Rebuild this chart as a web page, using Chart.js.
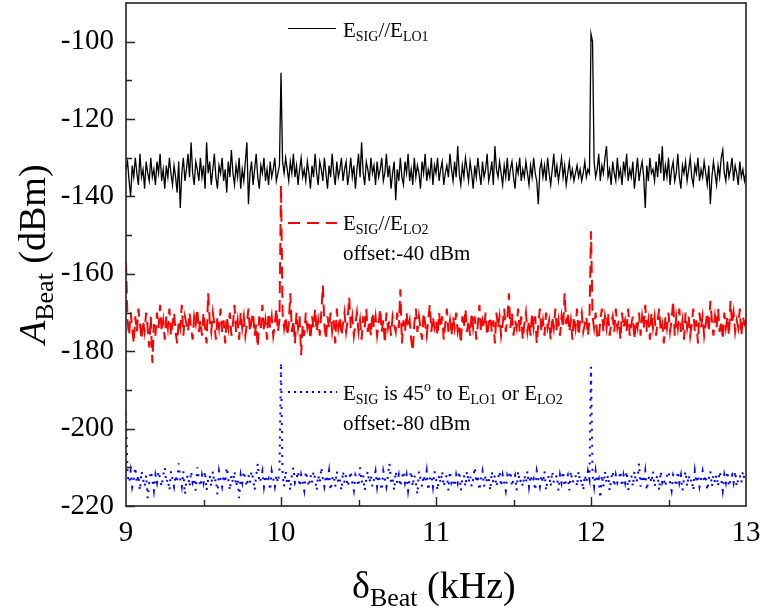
<!DOCTYPE html>
<html>
<head>
<meta charset="utf-8">
<script src="https://cdn.jsdelivr.net/npm/chart.js@4/dist/chart.umd.min.js"></script>
<style>
  html, body { margin: 0; padding: 0; background: #fff; }
  canvas { display: block; }
</style>
</head>
<body>
<canvas id="beatChart" width="761" height="612"></canvas>
<script>
// frequency grid (kHz): first sample and spacing
const freqStart = 9;
const freqStep = 0.01;

const xTicks = [9, 10, 11, 12, 13];
const yTicks = [-220, -200, -180, -160, -140, -120, -100];

// E_SIG // E_LO1 (dBm)
const beatLO1 = [
  -133,-131,-136,-140,-132,-135,-130,-134,-137,-129, -135,-133,-138,-131,-134,-136,-130,-135,-133,-137,
  -131,-134,-129,-136,-133,-138,-132,-135,-130,-134, -137,-132,-135,-139,-131,-143,-134,-130,-136,-133,
  -129,-135,-126,-134,-137,-131,-133,-136,-130,-135, -132,-138,-126,-134,-131,-137,-133,-129,-135,-138,
  -132,-134,-130,-136,-133,-139,-131,-135,-128,-134, -137,-132,-135,-130,-138,-133,-136,-131,-126,-142,
  -134,-131,-137,-133,-129,-135,-138,-132,-134,-130, -136,-133,-137,-131,-135,-133,-130,-136,-134,-132,
  -108,-131,-134,-130,-133,-136,-131,-134,-129,-135, -132,-137,-133,-130,-135,-133,-136,-131,-134,-138,
  -132,-135,-129,-134,-137,-131,-133,-136,-130,-134, -138,-132,-135,-129,-134,-137,-131,-135,-133,-130,
  -136,-133,-131,-137,-134,-130,-135,-132,-138,-133, -129,-135,-126,-134,-137,-131,-133,-136,-130,-134,
  -132,-137,-131,-135,-133,-130,-136,-134,-129,-135, -132,-138,-134,-131,-141,-133,-136,-130,-135,-137,
  -131,-134,-129,-136,-133,-137,-130,-135,-132,-134, -138,-131,-134,-129,-136,-133,-135,-130,-137,-132,
  -134,-130,-136,-133,-131,-137,-134,-132,-135,-129, -133,-136,-131,-135,-127,-134,-137,-132,-135,-130,
  -133,-136,-131,-134,-138,-132,-135,-130,-134,-137, -131,-135,-133,-129,-136,-134,-131,-137,-127,-133,
  -135,-131,-134,-137,-132,-135,-130,-136,-133,-131, -135,-138,-132,-134,-130,-136,-133,-135,-131,-134,
  -137,-132,-135,-130,-134,-136,-142,-133,-131,-135, -132,-136,-130,-134,-137,-133,-129,-135,-132,-136,
  -133,-130,-135,-132,-137,-134,-131,-135,-133,-136, -134,-132,-135,-133,-136,-134,-131,-135,-133,-134,
  -98,-100,-131,-135,-133,-129,-136,-132,-134,-130, -127,-135,-133,-137,-131,-134,-136,-130,-135,-133,
  -137,-131,-134,-129,-136,-133,-135,-131,-138,-134, -130,-136,-133,-131,-135,-143,-132,-136,-130,-134,
  -133,-136,-131,-135,-129,-134,-127,-136,-132,-135, -130,-137,-133,-131,-136,-134,-129,-135,-138,-132,
  -134,-131,-136,-133,-130,-135,-137,-132,-134,-130, -136,-133,-135,-131,-134,-137,-132,-142,-135,-131,
  -134,-137,-132,-135,-130,-128,-134,-136,-131,-135, -133,-130,-136,-132,-134,-137,-131,-135,-133,-136,
  -134
];

// E_SIG // E_LO2, offset -40 dBm
const beatLO2 = [
  -157,-172,-176,-170,-174,-178,-171,-175,-169,-173, -177,-172,-175,-170,-174,-179,-171,-183,-173,-176,
  -170,-174,-168,-175,-172,-177,-171,-174,-169,-176, -173,-170,-175,-178,-172,-174,-168,-176,-171,-173,
  -175,-170,-174,-177,-171,-173,-169,-175,-172,-176, -170,-174,-178,-165,-172,-175,-170,-173,-177,-171,
  -174,-169,-175,-172,-178,-171,-174,-170,-176,-173, -168,-175,-172,-177,-170,-174,-171,-176,-173,-169,
  -175,-172,-170,-176,-173,-179,-171,-174,-168,-175, -172,-177,-170,-174,-171,-176,-173,-169,-175,-172,
  -137,-170,-174,-171,-176,-173,-165,-175,-172,-178, -170,-174,-171,-181,-173,-176,-170,-174,-172,-177,
  -171,-174,-169,-175,-172,-176,-170,-163,-173,-177, -171,-174,-170,-175,-172,-178,-169,-174,-171,-176,
  -173,-170,-175,-172,-166,-174,-171,-176,-173,-170, -175,-172,-177,-171,-174,-169,-175,-172,-176,-170,
  -174,-171,-176,-173,-169,-175,-172,-178,-170,-174, -172,-176,-171,-173,-175,-170,-174,-164,-178,-172,
  -175,-170,-174,-172,-177,-180,-173,-169,-175,-171, -174,-177,-170,-173,-176,-172,-168,-175,-171,-174,
  -172,-176,-170,-174,-171,-177,-173,-169,-175,-172, -176,-171,-174,-170,-175,-173,-178,-171,-174,-169,
  -175,-172,-176,-170,-174,-171,-177,-173,-168,-175, -172,-174,-170,-176,-173,-171,-175,-172,-178,-170,
  -174,-171,-176,-173,-169,-175,-172,-165,-174,-170, -176,-172,-174,-169,-175,-171,-177,-173,-170,-175,
  -172,-176,-170,-174,-171,-178,-173,-169,-175,-172, -176,-170,-174,-172,-177,-171,-174,-169,-175,-172,
  -176,-171,-174,-165,-173,-170,-175,-172,-177,-171, -174,-169,-176,-172,-170,-175,-173,-171,-176,-172,
  -149,-171,-174,-170,-176,-177,-172,-169,-175,-171, -174,-170,-176,-173,-171,-175,-169,-174,-172,-177,
  -170,-174,-172,-175,-169,-176,-173,-171,-177,-172, -174,-170,-176,-171,-174,-168,-175,-172,-177,-170,
  -174,-171,-176,-172,-169,-175,-173,-178,-171,-174, -170,-175,-172,-167,-176,-171,-174,-169,-175,-172,
  -177,-170,-174,-171,-176,-173,-169,-175,-172,-178, -170,-174,-171,-176,-173,-170,-175,-167,-172,-176,
  -171,-174,-169,-175,-172,-177,-170,-174,-171,-176, -167,-173,-170,-175,-172,-174,-169,-176,-171,-173,
  -172
];

// E_SIG at 45 deg, offset -80 dBm
const beat45 = [
  -196,-212,-214,-211,-215,-213,-210,-214,-212,-216, -211,-213,-215,-212,-218,-214,-211,-213,-216,-212,
  -214,-211,-213,-215,-212,-210,-214,-213,-216,-211, -213,-215,-212,-214,-209,-213,-215,-211,-217,-213,
  -212,-215,-211,-214,-213,-216,-210,-213,-215,-212, -214,-211,-216,-213,-212,-215,-211,-214,-213,-217,
  -211,-213,-215,-212,-214,-210,-213,-216,-212,-214, -211,-215,-213,-218,-212,-214,-211,-213,-215,-212,
  -214,-211,-213,-216,-212,-209,-214,-213,-211,-215, -212,-214,-213,-216,-211,-213,-215,-212,-214,-211,
  -183,-212,-215,-211,-214,-213,-216,-212,-210,-214, -213,-211,-215,-212,-214,-216,-211,-213,-215,-212,
  -214,-211,-213,-216,-212,-214,-210,-213,-215,-212, -214,-211,-216,-213,-212,-215,-211,-214,-213,-216,
  -211,-214,-212,-215,-213,-211,-214,-216,-212,-213, -215,-210,-214,-212,-216,-213,-211,-214,-212,-215,
  -213,-211,-215,-212,-214,-216,-211,-213,-215,-212, -209,-214,-213,-216,-211,-214,-212,-215,-213,-211,
  -214,-212,-216,-213,-211,-215,-212,-214,-217,-211, -213,-215,-212,-214,-211,-216,-213,-212,-215,-211,
  -213,-216,-212,-214,-211,-215,-213,-212,-216,-211, -214,-213,-215,-212,-214,-211,-216,-213,-212,-215,
  -211,-214,-212,-215,-213,-210,-214,-212,-216,-213, -211,-215,-212,-214,-213,-216,-211,-214,-212,-215,
  -213,-211,-215,-212,-214,-216,-212,-213,-211,-215, -213,-212,-216,-211,-214,-213,-215,-212,-214,-211,
  -215,-212,-214,-213,-216,-211,-213,-215,-212,-214, -211,-216,-213,-212,-215,-211,-214,-213,-212,-216,
  -212,-214,-211,-215,-213,-212,-216,-211,-214,-213, -212,-215,-211,-214,-213,-216,-212,-214,-211,-213,
  -184,-212,-215,-211,-214,-213,-218,-212,-215,-211, -214,-212,-216,-213,-211,-215,-212,-214,-213,-211,
  -215,-212,-214,-211,-216,-213,-212,-215,-211,-214, -213,-209,-215,-212,-214,-211,-216,-213,-212,-214,
  -211,-215,-213,-212,-216,-211,-214,-213,-215,-212, -211,-214,-216,-212,-213,-215,-211,-214,-212,-216,
  -213,-211,-215,-212,-214,-213,-216,-211,-214,-212, -215,-213,-211,-214,-212,-216,-213,-211,-215,-212,
  -214,-212,-215,-211,-213,-216,-212,-214,-211,-215, -213,-212,-214,-211,-215,-213,-212,-214,-211,-213,
  -212
];

const SERIF = '"Liberation Serif", "Times New Roman", serif';

function toPoints(vals) {
  return vals.map((v, i) => ({ x: +(freqStart + i * freqStep).toFixed(2), y: v }));
}

// draw a run of text pieces (for sub/superscripts)
function drawParts(ctx, parts, x, y) {
  parts.forEach(p => {
    ctx.font = `${p.italic ? 'italic ' : ''}${p.size}px ${SERIF}`;
    ctx.fillText(p.t, x, y + (p.dy || 0));
    x += ctx.measureText(p.t).width;
  });
}

const main = t => ({ t, size: 21 });
const sub = t => ({ t, size: 14, dy: 4 });
const sup = t => ({ t, size: 14, dy: -9 });

const frame = {
  id: 'frame',
  afterDatasetsDraw(chart) {
    const { ctx, chartArea: a, scales } = chart;
    ctx.save();
    ctx.strokeStyle = '#222';
    ctx.lineWidth = 1.6;
    ctx.strokeRect(a.left, a.top, a.right - a.left, a.bottom - a.top);

    ctx.lineWidth = 1.4;
    ctx.beginPath();
    for (let v = -220; v <= -100; v += 10) {
      const py = Math.round(scales.y.getPixelForValue(v)) + 0.5;
      const len = v % 20 === 0 ? 9 : 6;
      ctx.moveTo(a.left, py);
      ctx.lineTo(a.left + len, py);
    }
    for (let v = 9.5; v < 13; v += 0.5) {
      const px = Math.round(scales.x.getPixelForValue(v)) + 0.5;
      const len = Number.isInteger(v) ? 9 : 6;
      ctx.moveTo(px, a.bottom);
      ctx.lineTo(px, a.bottom - len);
    }
    ctx.stroke();
    ctx.restore();
  }
};

const labels = {
  id: 'labels',
  afterDraw(chart) {
    const { ctx } = chart;
    ctx.save();
    ctx.fillStyle = '#000';
    ctx.textBaseline = 'alphabetic';
    ctx.textAlign = 'left';

    // legend-like annotations
    ctx.lineWidth = 1.2;
    ctx.strokeStyle = '#000';
    ctx.beginPath(); ctx.moveTo(288, 28.5); ctx.lineTo(336, 28.5); ctx.stroke();
    drawParts(ctx, [main('E'), sub('SIG'), main('//E'), sub('LO1')], 343, 37);

    ctx.strokeStyle = '#ff0000';
    ctx.lineWidth = 2;
    ctx.setLineDash([12, 7]);
    ctx.beginPath(); ctx.moveTo(288, 223); ctx.lineTo(337, 223); ctx.stroke();
    drawParts(ctx, [main('E'), sub('SIG'), main('//E'), sub('LO2')], 343, 230);
    drawParts(ctx, [main('offset:-40 dBm')], 343, 260);

    ctx.strokeStyle = '#0000ff';
    ctx.setLineDash([2, 4]);
    ctx.beginPath(); ctx.moveTo(288, 392); ctx.lineTo(337, 392); ctx.stroke();
    ctx.setLineDash([]);
    drawParts(ctx, [main('E'), sub('SIG'), main(' is 45'), sup('o'), main(' to E'), sub('LO1'), main(' or E'), sub('LO2')], 343, 400);
    drawParts(ctx, [main('offset:-80 dBm')], 343, 430);

    // x title
    drawParts(ctx, [{ t: 'δ', size: 38 }, { t: 'Beat', size: 26, dy: 8 }, { t: ' (kHz)', size: 38 }], 352, 598);

    // y title (rotated)
    ctx.translate(45, 344);
    ctx.rotate(-Math.PI / 2);
    drawParts(ctx, [{ t: 'A', size: 38, italic: true }, { t: 'Beat', size: 26, dy: 8 }, { t: ' (dBm)', size: 38 }], 0, 0);
    ctx.restore();
  }
};

const tickFont = { family: SERIF, size: 29 };

new Chart(document.getElementById('beatChart'), {
  type: 'line',
  data: {
    datasets: [
      { data: toPoints(beatLO1), borderColor: '#000000', borderWidth: 1.3, pointRadius: 0 },
      { data: toPoints(beatLO2), borderColor: '#ff0000', borderWidth: 2, borderDash: [12, 7], pointRadius: 0 },
      { data: toPoints(beat45), borderColor: '#0000ff', borderWidth: 2, borderDash: [2, 6], pointRadius: 0 }
    ]
  },
  options: {
    responsive: false,
    animation: false,
    layout: { padding: { top: 3, right: 15, left: 0, bottom: 0 } },
    plugins: { legend: { display: false }, tooltip: { enabled: false } },
    elements: { line: { tension: 0 } },
    scales: {
      x: {
        type: 'linear',
        min: 9,
        max: 13,
        afterBuildTicks: s => { s.ticks = xTicks.map(v => ({ value: v })); },
        ticks: { font: tickFont, color: '#000', padding: 10, maxRotation: 0 },
        grid: { display: false, drawTicks: false },
        border: { display: false },
        afterFit: s => { s.height = 106; s.paddingLeft = 0; s.paddingRight = 0; }
      },
      y: {
        min: -220,
        max: -90,
        afterBuildTicks: s => { s.ticks = yTicks.map(v => ({ value: v })); },
        ticks: { font: tickFont, color: '#000', padding: 12 },
        grid: { display: false, drawTicks: false },
        border: { display: false },
        afterFit: s => { s.width = 126; s.paddingTop = 0; s.paddingBottom = 0; }
      }
    }
  },
  plugins: [frame, labels]
});
</script>
</body>
</html>
